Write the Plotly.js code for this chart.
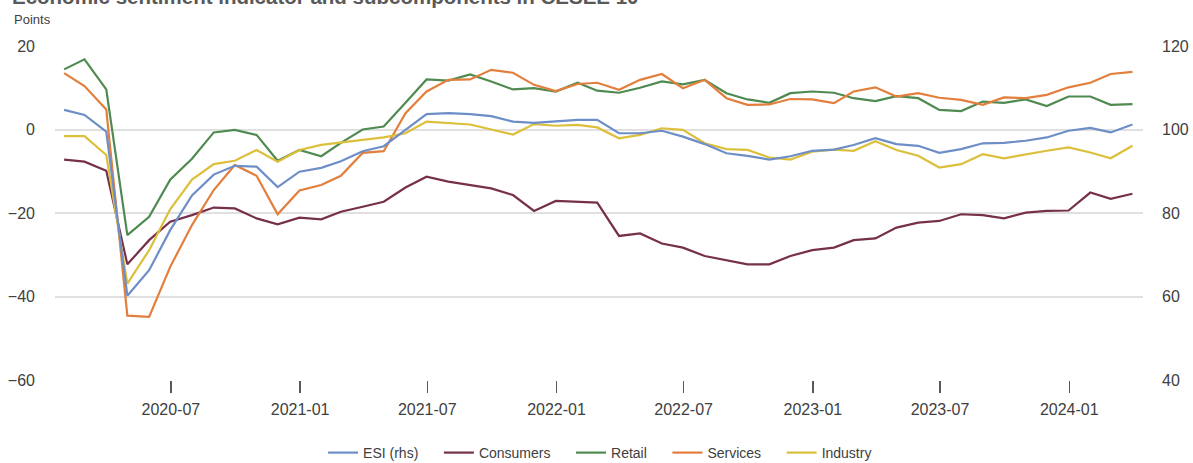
<!DOCTYPE html>
<html>
<head>
<meta charset="utf-8">
<script src="https://cdn.plot.ly/plotly-3.0.1.min.js"></script>
<style>
  html, body { margin: 0; padding: 0; background: #ffffff; }
  #chart { width: 1193px; height: 463px; }
</style>
</head>
<body>
<div id="chart"></div>
<script>
// Month-end observation dates, Jan 2020 - Mar 2024
const dates = [
  '2020-01-31','2020-02-29','2020-03-31','2020-04-30','2020-05-31','2020-06-30',
  '2020-07-31','2020-08-31','2020-09-30','2020-10-31','2020-11-30','2020-12-31',
  '2021-01-31','2021-02-28','2021-03-31','2021-04-30','2021-05-31','2021-06-30',
  '2021-07-31','2021-08-31','2021-09-30','2021-10-31','2021-11-30','2021-12-31',
  '2022-01-31','2022-02-28','2022-03-31','2022-04-30','2022-05-31','2022-06-30',
  '2022-07-31','2022-08-31','2022-09-30','2022-10-31','2022-11-30','2022-12-31',
  '2023-01-31','2023-02-28','2023-03-31','2023-04-30','2023-05-31','2023-06-30',
  '2023-07-31','2023-08-31','2023-09-30','2023-10-31','2023-11-30','2023-12-31',
  '2024-01-31','2024-02-29','2024-03-31'
];

// ESI (right-hand scale)
const esi = [
  104.7, 103.5, 99.5, 60.2, 66.3, 75.9, 84.2, 89.2, 91.3, 91.1, 86.2, 89.9,
  90.8, 92.4, 94.8, 96.0, 99.9, 103.7, 103.9, 103.7, 103.2, 101.9, 101.6, 101.9,
  102.3, 102.3, 99.1, 99.1, 99.7, 98.3, 96.5, 94.3, 93.7, 92.8, 93.6, 94.9,
  95.2, 96.3, 97.9, 96.5, 96.1, 94.4, 95.3, 96.7, 96.8, 97.3, 98.1, 99.7,
  100.4, 99.3, 101.2
];

const consumers = [
  -7.2, -7.7, -9.9, -32.3, -26.5, -22.1, -20.5, -18.7, -18.9, -21.3, -22.7, -21.1,
  -21.5, -19.7, -18.5, -17.3, -13.9, -11.3, -12.5, -13.3, -14.1, -15.7, -19.5, -17.1,
  -17.3, -17.5, -25.5, -24.9, -27.3, -28.3, -30.3, -31.3, -32.3, -32.3, -30.3, -28.9,
  -28.3, -26.5, -26.1, -23.5, -22.3, -21.9, -20.3, -20.5, -21.3, -19.9, -19.5, -19.4,
  -15.1, -16.6, -15.4
];

const retail = [
  14.4, 16.8, 9.6, -25.3, -20.9, -12.0, -7.0, -0.7, -0.1, -1.3, -7.5, -4.9,
  -6.4, -3.2, 0.0, 0.7, 6.4, 12.0, 11.7, 13.2, 11.5, 9.6, 9.9, 9.1,
  11.2, 9.3, 8.8, 10.0, 11.5, 10.8, 11.9, 8.7, 7.2, 6.4, 8.7, 9.1,
  8.8, 7.5, 6.8, 8.0, 7.5, 4.7, 4.4, 6.7, 6.4, 7.2, 5.6, 7.9,
  7.9, 5.9, 6.1
];

const services = [
  13.5, 10.4, 4.8, -44.6, -44.9, -32.9, -22.9, -14.5, -8.5, -11.1, -20.3, -14.6,
  -13.3, -11.1, -5.6, -5.2, 3.9, 9.1, 11.9, 12.0, 14.3, 13.6, 10.7, 9.2,
  10.9, 11.2, 9.5, 11.9, 13.3, 9.9, 11.9, 7.5, 5.9, 6.0, 7.3, 7.2,
  6.3, 9.1, 10.1, 7.9, 8.7, 7.6, 7.1, 5.9, 7.7, 7.5, 8.3, 10.1,
  11.2, 13.3, 13.8
];

const industry = [
  -1.6, -1.6, -6.1, -36.9, -28.9, -19.1, -12.0, -8.3, -7.5, -4.9, -7.7, -4.9,
  -3.7, -3.2, -2.5, -1.9, -0.9, 1.9, 1.6, 1.2, 0.0, -1.2, 1.3, 0.9,
  1.1, 0.5, -2.1, -1.3, 0.3, -0.1, -3.3, -4.7, -4.9, -6.7, -7.2, -5.3,
  -4.8, -5.1, -2.8, -4.9, -6.3, -9.1, -8.3, -5.9, -6.9, -5.9, -5.1, -4.3,
  -5.5, -6.9, -3.9
];

const seriesNames = ['ESI (rhs)', 'Consumers', 'Retail', 'Services', 'Industry'];
const colors = ['#6d8ec7', '#76304a', '#4f8a50', '#e37f3c', '#dcbf3b'];

const pad = '\u00a0\u00a0\u00a0\u00a0';
const mk = (i, y, axis) => ({
  type: 'scatter', mode: 'lines',
  name: seriesNames[i] + (i < seriesNames.length - 1 ? pad : ''),
  x: dates, y: y, yaxis: axis,
  line: { color: colors[i], width: 2.2 }
});

const traces = [
  mk(0, esi, 'y2'),
  mk(1, consumers, 'y'),
  mk(2, retail, 'y'),
  mk(3, services, 'y'),
  mk(4, industry, 'y')
];

const tickFont = { family: 'Liberation Sans, Arial, sans-serif', size: 16, color: '#404040' };

const layout = {
  width: 1193, height: 463,
  margin: { l: 55, r: 50, t: 46, b: 83 },
  paper_bgcolor: '#ffffff', plot_bgcolor: '#ffffff',
  font: { family: 'Liberation Sans, Arial, sans-serif', color: '#404040' },
  showlegend: true,
  legend: {
    orientation: 'h', xref: 'container', yref: 'container',
    x: 0.503, xanchor: 'center', y: 10 / 463, yanchor: 'middle',
    font: { family: 'Liberation Sans, Arial, sans-serif', size: 14, color: '#404040' },
    traceorder: 'normal'
  },
  xaxis: {
    type: 'date',
    range: ['2020-01-18', '2024-04-15'],
    tick0: '2020-07-01', dtick: 'M6', tickformat: '%Y-%m',
    ticks: 'outside', ticklen: 12, tickwidth: 1.5, tickcolor: '#595959',
    ticklabelstandoff: 3,
    showgrid: false, showline: false, zeroline: false,
    tickfont: tickFont
  },
  yaxis: {
    range: [-60, 20], dtick: 20, tick0: 0,
    showgrid: true, gridcolor: '#e0e0e0', gridwidth: 2,
    zeroline: false, showline: false, ticks: '',
    ticklabelstandoff: 19,
    tickfont: tickFont
  },
  yaxis2: {
    range: [40, 120], dtick: 20, tick0: 40,
    overlaying: 'y', side: 'right',
    showgrid: false, zeroline: false, showline: false, ticks: '',
    ticklabelstandoff: 18,
    tickfont: tickFont
  },
  annotations: [
    {
      text: 'Points', xref: 'paper', yref: 'paper',
      x: -0.0395, xanchor: 'left', y: 1 + (46 - 20) / 334, yanchor: 'middle',
      showarrow: false,
      font: { family: 'Liberation Sans, Arial, sans-serif', size: 13, color: '#404040' }
    },
    {
      text: '<b>Economic sentiment indicator and subcomponents in CESEE 10</b>',
      xref: 'paper', yref: 'paper',
      x: -0.041, xanchor: 'left', y: 1 + (46 - 10) / 334, yanchor: 'bottom',
      showarrow: false,
      font: { family: 'Liberation Sans, Arial, sans-serif', size: 20.5, color: '#595959' }
    }
  ]
};

Plotly.newPlot('chart', traces, layout, { displayModeBar: false, staticPlot: true });
</script>
</body>
</html>
